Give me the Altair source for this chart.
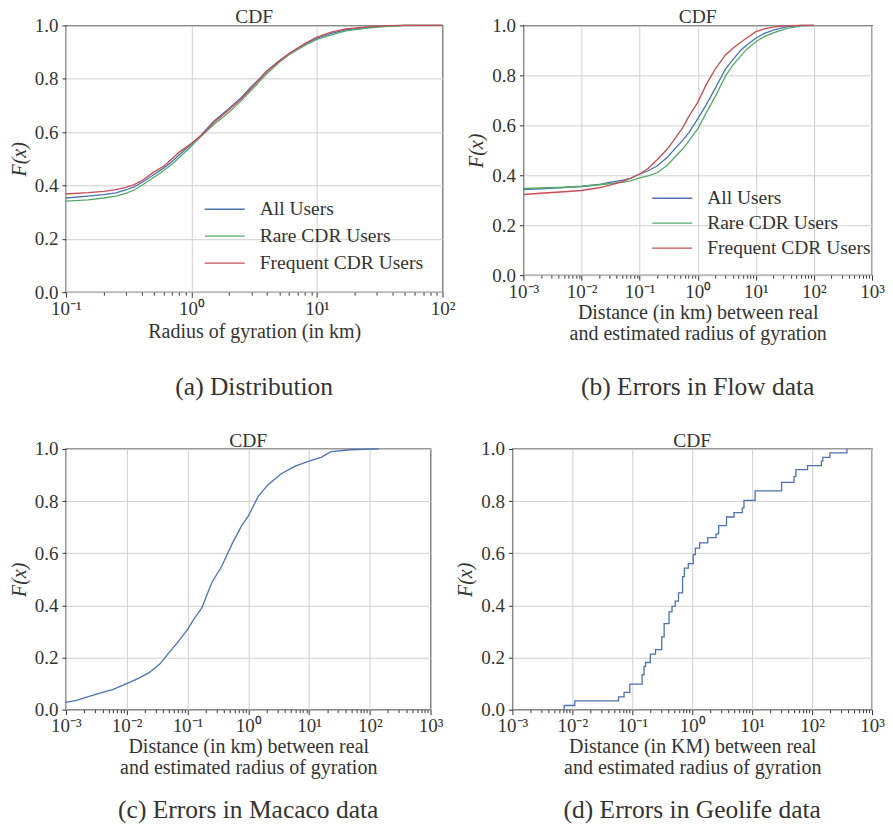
import altair as alt
import pandas as pd

FONT = "Liberation Serif"
TXT = "#333333"
SERIES = ["All Users", "Rare CDR Users", "Frequent CDR Users"]
COLORS = ["#4c72b0", "#55a868", "#c44e52"]

# ---- (a) Distribution of radius of gyration ----
A_X = [0.1, 0.15, 0.2, 0.25, 0.3, 0.35, 0.4, 0.5, 0.6, 0.7, 0.8, 1.0, 1.2, 1.5, 2, 2.5,
       3, 4, 5, 6, 8, 10, 13, 17, 25, 35, 50, 100]
A_ALL = [0.353, 0.360, 0.366, 0.372, 0.383, 0.395, 0.410, 0.440, 0.465, 0.490, 0.515, 0.555,
         0.590, 0.640, 0.690, 0.730, 0.770, 0.830, 0.868, 0.895, 0.930, 0.952, 0.970, 0.983,
         0.993, 0.998, 1.0, 1.0]
A_RARE = [0.341, 0.346, 0.353, 0.360, 0.370, 0.383, 0.400, 0.430, 0.455, 0.480, 0.505, 0.548,
          0.585, 0.628, 0.675, 0.718, 0.758, 0.820, 0.862, 0.890, 0.925, 0.948, 0.965, 0.980,
          0.990, 0.996, 1.0, 1.0]
A_FREQ = [0.368, 0.373, 0.378, 0.384, 0.393, 0.403, 0.417, 0.450, 0.472, 0.500, 0.525, 0.558,
          0.588, 0.635, 0.685, 0.725, 0.765, 0.828, 0.866, 0.895, 0.932, 0.956, 0.975, 0.987,
          0.995, 0.999, 1.0, 1.0]

# ---- (b) Errors in Flow data ----
B_X = [0.001, 0.002, 0.005, 0.01, 0.02, 0.03, 0.05, 0.07, 0.1, 0.14, 0.2, 0.3, 0.4, 0.55, 0.7,
       1.0, 1.4, 2, 3, 4, 5.5, 7, 10, 14, 20, 35, 60, 100]
B_ALL = [0.343, 0.346, 0.351, 0.355, 0.363, 0.372, 0.380, 0.388, 0.405, 0.418, 0.437, 0.472,
         0.505, 0.540, 0.570, 0.626, 0.682, 0.748, 0.825, 0.862, 0.901, 0.922, 0.949, 0.968,
         0.981, 0.995, 1.0, 1.0]
B_RARE = [0.347, 0.349, 0.352, 0.356, 0.362, 0.366, 0.372, 0.378, 0.390, 0.398, 0.410, 0.440,
          0.472, 0.505, 0.537, 0.586, 0.650, 0.715, 0.797, 0.840, 0.878, 0.905, 0.935, 0.955,
          0.970, 0.988, 0.998, 1.0]
B_FREQ = [0.323, 0.328, 0.334, 0.339, 0.350, 0.360, 0.375, 0.388, 0.405, 0.427, 0.462, 0.505,
          0.545, 0.590, 0.635, 0.692, 0.763, 0.825, 0.882, 0.908, 0.933, 0.950, 0.975, 0.986,
          0.993, 0.999, 1.0, 1.0]

# ---- (c) Errors in Macaco data ----
C_X = [0.001, 0.0015, 0.002, 0.003, 0.004, 0.006, 0.01, 0.015, 0.023, 0.035, 0.049, 0.07, 0.1,
       0.13, 0.172, 0.25, 0.366, 0.535, 0.78, 1.0, 1.46, 2.12, 3.5, 5.8, 10, 15.8, 23, 49, 141]
C_Y = [0.028, 0.036, 0.045, 0.058, 0.066, 0.078, 0.100, 0.118, 0.141, 0.175, 0.217, 0.260, 0.307,
       0.350, 0.390, 0.486, 0.550, 0.633, 0.706, 0.742, 0.818, 0.863, 0.905, 0.933, 0.953, 0.968,
       0.990, 0.997, 1.0]

# ---- (d) Errors in Geolife data (step CDF) ----
D_X = [0.0073, 0.0073, 0.011, 0.059, 0.073, 0.091, 0.146, 0.157, 0.166, 0.2, 0.244, 0.31, 0.34,
       0.41, 0.46, 0.52, 0.59, 0.69, 0.74, 0.86, 1.04, 1.13, 1.33, 1.82, 2.5, 2.76, 3.73, 4.98,
       6.84, 7.3, 11.2, 31, 50, 53.6, 84, 143, 151, 198, 381]
D_Y = [0.0, 0.016, 0.034, 0.049, 0.066, 0.098, 0.134, 0.166, 0.181, 0.213, 0.230, 0.279, 0.330,
       0.375, 0.396, 0.416, 0.448, 0.510, 0.543, 0.560, 0.595, 0.620, 0.640, 0.660, 0.674, 0.706,
       0.739, 0.756, 0.774, 0.803, 0.839, 0.872, 0.895, 0.921, 0.936, 0.953, 0.968, 0.985, 1.0]

A_XEXP = [-1, 0, 1, 2]
A_XLABELS = ["10⁻¹", "10⁰", "10¹", "10²"]
W_XEXP = [-3, -2, -1, 0, 1, 2, 3]
W_XLABELS = ["10⁻³", "10⁻²", "10⁻¹", "10⁰", "10¹", "10²", "10³"]
Y_TICKS = [0.0, 0.2, 0.4, 0.6, 0.8, 1.0]

E = "round(log(datum.value)/LN10)"
MAJOR = f"abs(log(datum.value)/LN10 - {E}) < 0.01"


def x_axis(exps, labels, title, tpad):
    vals = [k * 10.0 ** e for e in exps[:-1] for k in range(1, 10)] + [10.0 ** exps[-1]]
    chain = "".join(f"{E} == {e} ? '{l}' : " for e, l in zip(exps, labels)) + "''"
    return alt.Axis(
        values=vals, title=title, labelExpr=f"{MAJOR} ? ({chain}) : ''",
        labelOverlap=False, labelFlush=False,
        gridOpacity={"condition": {"test": MAJOR, "value": 1}, "value": 0},
        tickSize={"condition": {"test": MAJOR, "value": 5}, "value": 3},
        labelPadding=2, titlePadding=tpad, titleLineHeight=21,
    )


def y_axis():
    return alt.Axis(values=Y_TICKS, format=".1f", title="F(x)", titleFontStyle="italic",
                    tickSize=4, labelPadding=4, titlePadding=5)


def long_df(xs, cols):
    rows = []
    for name, ys in cols:
        for x, y in zip(xs, ys):
            rows.append({"x": x, "y": y, "series": name})
    return pd.DataFrame(rows)


def text_layer(txt, w, y, size, baseline):
    return alt.Chart(alt.Data(values=[{"t": txt}])).mark_text(
        font=FONT, fontSize=size, color=TXT, baseline=baseline, align="center"
    ).encode(text="t:N", x=alt.value(w / 2), y=alt.value(y))


def panel(df, w, h, dom, exps, labels, xtitle, tpad, caption, cap_off, legend=None, step=False):
    xenc = alt.X("x:Q", scale=alt.Scale(type="log", domain=dom, nice=False),
                 axis=x_axis(exps, labels, xtitle, tpad))
    yenc = alt.Y("y:Q", scale=alt.Scale(domain=[0, 1], nice=False), axis=y_axis())
    mk = alt.Chart(df).mark_line(strokeWidth=1.3, interpolate="step-after" if step else "linear")
    if legend is not None:
        lines = mk.encode(
            x=xenc, y=yenc,
            color=alt.Color("series:N", sort=SERIES,
                            scale=alt.Scale(domain=SERIES, range=COLORS),
                            legend=alt.Legend(orient="none", legendX=legend[0],
                                              legendY=legend[1], rowPadding=legend[2],
                                              title=None)),
            order=alt.Order("x:Q"),
        )
    else:
        lines = mk.encode(x=xenc, y=yenc, color=alt.value(COLORS[0]), order=alt.Order("x:Q"))
    return alt.layer(
        lines,
        text_layer("CDF", w, -2, 19.5, "alphabetic"),
        text_layer(caption, w, h + cap_off, 25.5, "middle"),
    ).properties(width=w, height=h)


pa = panel(long_df(A_X, [("All Users", A_ALL), ("Rare CDR Users", A_RARE),
                         ("Frequent CDR Users", A_FREQ)]),
           377, 267, [0.1, 100], A_XEXP, A_XLABELS, "Radius of gyration (in km)", 3,
           "(a)  Distribution", 95, legend=(148, 173, 6))
pb = panel(long_df(B_X, [("All Users", B_ALL), ("Rare CDR Users", B_RARE),
                         ("Frequent CDR Users", B_FREQ)]),
           349, 250, [0.001, 1000], W_XEXP, W_XLABELS,
           ["Distance (in km) between real", "and estimated radius of gyration"], 1,
           "(b)  Errors in Flow data", 112, legend=(138, 162, 4))
pc = panel(long_df(C_X, [("All Users", C_Y)]), 365, 261, [0.001, 1000], W_XEXP, W_XLABELS,
           ["Distance (in km) between real", "and estimated radius of gyration"], 1,
           "(c)  Errors in Macaco data", 100)
pd_ = panel(long_df(D_X, [("All Users", D_Y)]), 360, 261, [0.001, 1000], W_XEXP, W_XLABELS,
            ["Distance (in KM) between real", "and estimated radius of gyration"], 1,
            "(d)  Errors in Geolife data", 100, step=True)

row1 = alt.hconcat(pa, pb, spacing=81, bounds="flush").resolve_scale(color="independent")
row2 = alt.hconcat(pc, pd_, spacing=82, bounds="flush")

chart = alt.vconcat(row1, row2, spacing=28).resolve_scale(
    color="independent"
).properties(
    padding={"left": 0, "top": -2, "right": 0, "bottom": 0}
).configure_view(
    stroke="#333333", strokeWidth=1.3
).configure_axis(
    labelFont=FONT, labelFontSize=19, labelColor=TXT,
    titleFont=FONT, titleFontSize=20, titleColor=TXT, titleFontWeight="normal",
    tickColor="#333333", tickWidth=1, domain=False,
    gridColor="#cfcfcf", gridWidth=1,
).configure_legend(
    labelFont=FONT, labelFontSize=19.5, labelColor=TXT, labelLimit=0,
    symbolType="M-2,0H2", symbolStrokeWidth=1.3, symbolSize=400,
    symbolFillColor="transparent", labelOffset=24,
    padding=0, strokeColor="transparent",
)

chart.save("out.html", embed_options={"renderer": "svg", "actions": False})
